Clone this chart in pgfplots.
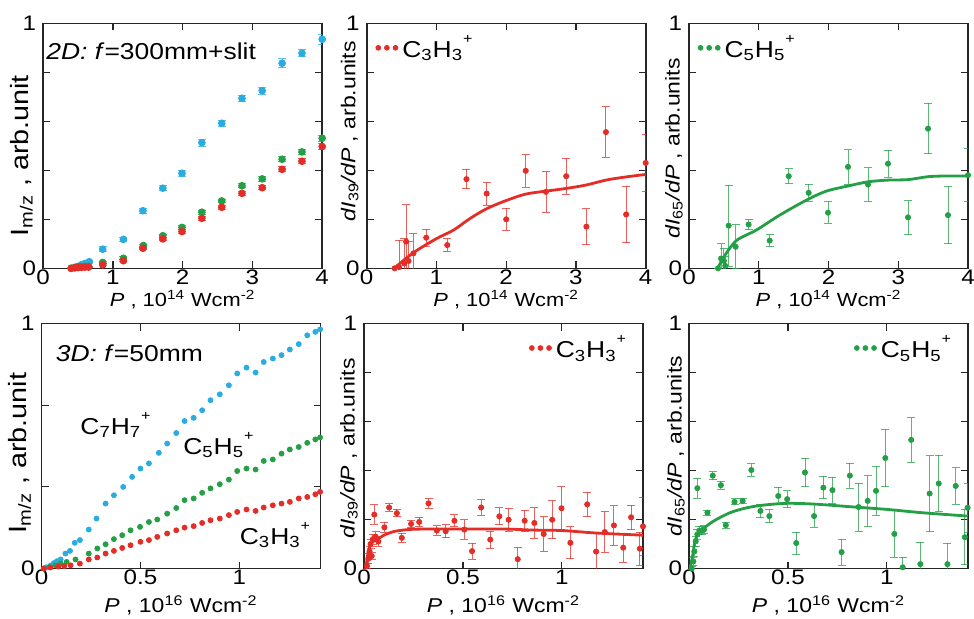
\documentclass[border=0pt]{standalone}
\usepackage{fontspec}
\setmainfont{Liberation Sans}[FakeStretch=1.15]
\usepackage{pgfplots}
\pgfplotsset{compat=1.18}
\definecolor{cblue}{RGB}{40,172,226}
\definecolor{cgreen}{RGB}{35,160,70}
\definecolor{cred}{RGB}{228,45,38}
\newcommand\ion[2]{C\textsubscript{#1}H\textsubscript{#2}\raisebox{1.15ex}{\fontsize{7}{8}\selectfont +}}
\pgfplotsset{
 panel/.style={scale only axis, width=139.5pt, height=122.5pt, ymin=0, ymax=1,
   axis line style={line width=0.8pt, black!85},
   every tick/.style={line width=0.6pt, black!85},
   major tick length=3.5pt,
   ytick={0,0.2,0.4,0.6,0.8,1}, yticklabels={0,,,,,1},
   tick label style={font=\fontsize{10.5}{12}\selectfont},
   xticklabel style={inner sep=0.5pt},
   /pgf/number format/assume math mode=true,
   xlabel style={font=\fontsize{9.5}{11}\selectfont, inner sep=0pt, at={(axis description cs:0.5,-0.127)}, anchor=center},
   ylabel style={font=\fontsize{10}{12}\selectfont, anchor=center},
   legend style={draw=none, fill=none, inner sep=0pt, font=\fontsize{11.5}{13}\selectfont},
   legend cell align=left,
 },
 top/.style={panel, xmin=0, xmax=4, xtick={0,1,2,3,4},
   xlabel={\textit{P} , 10\textsuperscript{14} Wcm\textsuperscript{-2}}},
 bot/.style={panel, xmin=0, xmax=1.41, xtick={0,0.5,1}, xticklabels={0,0.5,1},
   xlabel={\textit{P} , 10\textsuperscript{16} Wcm\textsuperscript{-2}},
   xlabel style={font=\fontsize{10}{12}\selectfont, at={(axis description cs:0.5,-0.15)}}},
 dat/.style={only marks, mark=*, mark size=1.3pt,
   error bars/y dir=both, error bars/y explicit,
   error bars/error bar style={line width=0.45pt, opacity=0.75},
   error bars/error mark options={rotate=90, mark size=2pt, line width=0.45pt, opacity=0.75}},
 fit/.style={line width=1.4pt, smooth, no markers},
 dots/.style={legend image code/.code={\fill (0pt,0pt) circle (1.2pt); \fill (4.3pt,0pt) circle (1.2pt); \fill (8.6pt,0pt) circle (1.2pt);}},
}
\begin{document}
\begin{tikzpicture}
\useasboundingbox (0,0) rectangle (487pt,-309pt);
% ---------- panel 1 ----------
\begin{axis}[top, at={(21.6pt,-134.15pt)}, anchor=south west,
  ylabel={I\textsubscript{m/z} , arb.unit},
  ylabel style={font=\fontsize{12.5}{15}\selectfont, at={(axis description cs:-0.078,0.46)}}]
\addplot[dat, cblue, mark size=1.7pt] coordinates {
(0.45,0.003) +- (0,0.004) (0.5,0.008) +- (0,0.005) (0.55,0.015) +- (0,0.006) (0.6,0.02) +- (0,0.006) (0.66,0.027) +- (0,0.006)
(0.853,0.078) +- (0,0.01) (1.15,0.118) +- (0,0.01) (1.43,0.235) +- (0,0.01) (1.715,0.327) +- (0,0.01) (1.99,0.388) +- (0,0.012)
(2.275,0.513) +- (0,0.015) (2.56,0.592) +- (0,0.012) (2.85,0.694) +- (0,0.012) (3.14,0.725) +- (0,0.015) (3.425,0.837) +- (0,0.018)
(3.71,0.878) +- (0,0.015) (4.0,0.935) +- (0,0.02)};
\addplot[dat, cgreen, mark size=1.7pt] coordinates {
(0.4,0) +- (0,0) (0.455,0.004) +- (0,0.003) (0.5,0.006) +- (0,0.003) (0.527,0.007) +- (0,0.003) (0.6,0.008) +- (0,0.003) (0.647,0.008) +- (0,0.003)
(0.853,0.024) +- (0,0.005) (1.15,0.041) +- (0,0.006) (1.437,0.093) +- (0,0.006) (1.715,0.133) +- (0,0.007) (1.99,0.167) +- (0,0.007)
(2.275,0.229) +- (0,0.008) (2.56,0.275) +- (0,0.008) (2.85,0.337) +- (0,0.008) (3.14,0.365) +- (0,0.009) (3.425,0.445) +- (0,0.01)
(3.71,0.475) +- (0,0.01) (4.0,0.531) +- (0,0.012)};
\addplot[dat, cred, mark size=1.7pt] coordinates {
(0.4,0) +- (0,0) (0.455,0.002) +- (0,0.002) (0.5,0.003) +- (0,0.002) (0.55,0.004) +- (0,0.002) (0.6,0.005) +- (0,0.002) (0.65,0.005) +- (0,0.002)
(0.853,0.014) +- (0,0.004) (1.15,0.031) +- (0,0.005) (1.43,0.082) +- (0,0.006) (1.715,0.12) +- (0,0.006) (1.99,0.15) +- (0,0.007)
(2.275,0.204) +- (0,0.008) (2.56,0.249) +- (0,0.008) (2.85,0.306) +- (0,0.008) (3.14,0.329) +- (0,0.009) (3.425,0.404) +- (0,0.01)
(3.71,0.437) +- (0,0.01) (4.0,0.497) +- (0,0.012)};
\node[anchor=west, font=\fontsize{11.5}{13}\selectfont, inner sep=0pt] at (axis description cs:0.01,0.885) {\textit{2D:} \textit{f}=300mm+slit};
\end{axis}
% ---------- panel 2 ----------
\begin{axis}[top, at={(183.35pt,-134.15pt)}, anchor=south west,
  ylabel={\textit{dI}\textsubscript{39}\textit{/dP} , arb.units},
  ylabel style={at={(axis description cs:-0.061,0.56)}},
  legend style={at={(axis description cs:0.03,0.9)}, anchor=west}]
\addplot[dat, cred, dots] coordinates {
(0.40,0.0) +- (0,0.0) (0.465,0.005) +- (0,0.11) (0.54,0.02) +- (0,0.1) (0.565,0.109) +- (0,0.15) (0.6,0.03) +- (0,0.08) (0.67,0.061) +- (0,0.08)
(0.853,0.125) +- (0,0.035) (1.155,0.095) +- (0,0.025) (1.43,0.364) +- (0,0.04) (1.72,0.305) +- (0,0.047) (2.0,0.2) +- (0,0.045)
(2.28,0.398) +- (0,0.066) (2.57,0.312) +- (0,0.083) (2.86,0.376) +- (0,0.073) (3.15,0.17) +- (0,0.073) (3.43,0.556) +- (0,0.103)
(3.72,0.22) +- (0,0.116) (4.0,0.43) +- (0,0.117)};
\addlegendentry{\ion{3}{3}}
\addplot[fit, cred] coordinates {
(0.393,0) (0.671,0.064) (1.006,0.122) (1.245,0.156) (1.485,0.204) (1.725,0.244) (2.012,0.278) (2.28,0.303)
(2.568,0.315) (2.86,0.326) (3.147,0.34) (3.43,0.36) (3.717,0.373) (4.0,0.383)};
\end{axis}
% ---------- panel 3 ----------
\begin{axis}[top, at={(344.5pt,-134.15pt)}, anchor=south west,
  ylabel={\textit{dI}\textsubscript{65}\textit{/dP} , arb.units},
  ylabel style={at={(axis description cs:-0.054,0.49)}},
  legend style={at={(axis description cs:0.03,0.9)}, anchor=west}]
\addplot[dat, cgreen, dots] coordinates {
(0.416,0) +- (0,0) (0.46,0.04) +- (0,0.06) (0.5,0.03) +- (0,0.05) (0.52,0.01) +- (0,0.04) (0.569,0.174) +- (0,0.165) (0.669,0.088) +- (0,0.09)
(0.855,0.179) +- (0,0.021) (1.157,0.113) +- (0,0.024) (1.43,0.376) +- (0,0.031) (1.716,0.308) +- (0,0.035) (1.993,0.227) +- (0,0.044)
(2.28,0.414) +- (0,0.07) (2.566,0.342) +- (0,0.069) (2.853,0.427) +- (0,0.056) (3.14,0.208) +- (0,0.068) (3.427,0.57) +- (0,0.103)
(3.713,0.217) +- (0,0.116) (4.0,0.38) +- (0,0.108)};
\addlegendentry{\ion{5}{5}}
\addplot[fit, cgreen] coordinates {
(0.416,0) (0.487,0.041) (0.679,0.113) (0.965,0.156) (1.3,0.217) (1.682,0.278) (1.969,0.315) (2.28,0.336)
(2.566,0.353) (2.853,0.36) (3.14,0.362) (3.427,0.374) (3.713,0.377) (4.0,0.377)};
\end{axis}
% ---------- panel 4 ----------
\begin{axis}[bot, at={(20.75pt,-284.25pt)}, anchor=south west,
  ytick={0,0.3333,0.6667,1}, yticklabels={0,,,1},
  ylabel={I\textsubscript{m/z} , arb.unit},
  ylabel style={font=\fontsize{12.5}{15}\selectfont, at={(axis description cs:-0.078,0.47)}}]
\addplot[only marks, mark=*, mark size=1.25pt, cblue] coordinates {
(0.012,0) (0.025,0.005) (0.046,0.012) (0.062,0.022) (0.078,0.03) (0.097,0.037) (0.121,0.061) (0.144,0.072) (0.168,0.105) (0.194,0.116)
(0.239,0.159) (0.278,0.204) (0.324,0.265) (0.366,0.299) (0.413,0.333) (0.458,0.374) (0.5,0.408) (0.543,0.429) (0.593,0.472)
(0.635,0.51) (0.681,0.553) (0.723,0.602) (0.769,0.615) (0.812,0.646) (0.854,0.687) (0.901,0.711) (0.947,0.748) (0.989,0.796)
(1.036,0.82) (1.082,0.8) (1.123,0.843) (1.169,0.857) (1.213,0.871) (1.255,0.894) (1.3,0.916) (1.343,0.952) (1.384,0.966) (1.408,0.976)};
\addplot[only marks, mark=*, mark size=1.25pt, cgreen] coordinates {
(0.012,0) (0.04,0.006) (0.07,0.013) (0.097,0.02) (0.127,0.027) (0.172,0.037) (0.239,0.061) (0.282,0.082) (0.324,0.099) (0.366,0.12)
(0.408,0.136) (0.45,0.156) (0.498,0.17) (0.543,0.19) (0.585,0.2) (0.635,0.224) (0.681,0.247) (0.723,0.279) (0.769,0.286)
(0.812,0.309) (0.854,0.327) (0.901,0.344) (0.947,0.363) (0.989,0.398) (1.036,0.408) (1.082,0.404) (1.123,0.439) (1.169,0.445)
(1.213,0.469) (1.255,0.486) (1.3,0.496) (1.343,0.513) (1.384,0.527) (1.408,0.535)};
\addplot[only marks, mark=*, mark size=1.25pt, cred] coordinates {
(0.012,0) (0.045,0.004) (0.085,0.008) (0.115,0.01) (0.147,0.013) (0.194,0.02) (0.239,0.037) (0.282,0.045) (0.324,0.061) (0.366,0.072)
(0.408,0.084) (0.45,0.095) (0.5,0.109) (0.543,0.116) (0.585,0.129) (0.635,0.143) (0.681,0.156) (0.723,0.167) (0.769,0.173)
(0.812,0.186) (0.854,0.197) (0.901,0.204) (0.947,0.218) (0.989,0.231) (1.036,0.241) (1.082,0.235) (1.123,0.249) (1.169,0.258)
(1.213,0.265) (1.255,0.272) (1.3,0.286) (1.343,0.292) (1.384,0.303) (1.408,0.313)};
\node[anchor=west, font=\fontsize{11.5}{13}\selectfont, inner sep=0pt] at (axis description cs:0.05,0.878) {\textit{3D:} \textit{f}=50mm};
\node[font=\fontsize{11.5}{13}\selectfont] at (axis cs:0.374,0.586) {\ion{7}{7}};
\node[font=\fontsize{11.5}{13}\selectfont] at (axis cs:0.894,0.504) {\ion{5}{5}};
\node[font=\fontsize{11.5}{13}\selectfont] at (axis cs:1.18,0.137) {\ion{3}{3}};
\end{axis}
% ---------- panel 5 ----------
\begin{axis}[bot, at={(182pt,-284.25pt)}, anchor=south west,
  ylabel={\textit{dI}\textsubscript{39}\textit{/dP} , arb.units},
  ylabel style={at={(axis description cs:-0.054,0.49)}},
  legend style={at={(axis description cs:0.955,0.9)}, anchor=east}]
\addplot[dat, cred, dots] coordinates {
(0.015,0.01) +- (0,0.01) (0.022,0.04) +- (0,0.02) (0.028,0.07) +- (0,0.02) (0.033,0.1) +- (0,0.02) (0.039,0.051) +- (0,0.015)
(0.045,0.12) +- (0,0.02) (0.052,0.22) +- (0,0.04) (0.059,0.13) +- (0,0.02) (0.072,0.11) +- (0,0.02)
(0.103,0.168) +- (0,0.02) (0.127,0.249) +- (0,0.015) (0.166,0.226) +- (0,0.015) (0.191,0.125) +- (0,0.02) (0.238,0.182) +- (0,0.015)
(0.279,0.19) +- (0,0.02) (0.326,0.266) +- (0,0.02) (0.368,0.155) +- (0,0.02) (0.413,0.152) +- (0,0.027) (0.457,0.195) +- (0,0.025)
(0.507,0.159) +- (0,0.04) (0.546,0.071) +- (0,0.032) (0.592,0.249) +- (0,0.031) (0.638,0.118) +- (0,0.035) (0.684,0.213) +- (0,0.035)
(0.731,0.199) +- (0,0.046) (0.777,0.038) +- (0,0.047) (0.812,0.195) +- (0,0.044) (0.861,0.186) +- (0,0.063) (0.908,0.141) +- (0,0.07)
(0.951,0.199) +- (0,0.077) (0.998,0.246) +- (0,0.087) (1.043,0.105) +- (0,0.065) (1.128,0.262) +- (0,0.05) (1.173,0.069) +- (0,0.074)
(1.217,0.149) +- (0,0.082) (1.263,0.176) +- (0,0.081) (1.31,0.085) +- (0,0.06) (1.35,0.209) +- (0,0.05) (1.394,0.081) +- (0,0.068)
(1.41,0.172) +- (0,0.12)};
\addlegendentry{\ion{3}{3}}
\addplot[fit, cred] coordinates {
(0.01,0.004) (0.022,0.071) (0.039,0.105) (0.065,0.118) (0.106,0.138) (0.157,0.152) (0.224,0.159) (0.292,0.161)
(0.461,0.161) (0.714,0.161) (0.85,0.157) (1.001,0.155) (1.17,0.145) (1.41,0.136)};
\end{axis}
% ---------- panel 6 ----------
\begin{axis}[bot, at={(344.5pt,-284.25pt)}, anchor=south west,
  ylabel={\textit{dI}\textsubscript{65}\textit{/dP} , arb.units},
  ylabel style={at={(axis description cs:-0.047,0.5)}},
  legend style={at={(axis description cs:0.955,0.9)}, anchor=east}]
\addplot[dat, cgreen, dots] coordinates {
(0.014,0.0) +- (0,0.01) (0.022,0.029) +- (0,0.015) (0.027,0.07) +- (0,0.02) (0.034,0.111) +- (0,0.02) (0.042,0.139) +- (0,0.02)
(0.052,0.155) +- (0,0.015) (0.064,0.155) +- (0,0.015) (0.076,0.159) +- (0,0.015) (0.042,0.328) +- (0,0.041)
(0.093,0.228) +- (0,0.01) (0.12,0.379) +- (0,0.016) (0.161,0.34) +- (0,0.017) (0.186,0.177) +- (0,0.012) (0.23,0.272) +- (0,0.012)
(0.271,0.276) +- (0,0.012) (0.315,0.402) +- (0,0.026) (0.361,0.235) +- (0,0.027) (0.406,0.214) +- (0,0.027) (0.451,0.296) +- (0,0.036)
(0.496,0.283) +- (0,0.034) (0.542,0.104) +- (0,0.045) (0.586,0.392) +- (0,0.059) (0.632,0.214) +- (0,0.046) (0.679,0.33) +- (0,0.046)
(0.725,0.32) +- (0,0.053) (0.771,0.067) +- (0,0.053) (0.813,0.379) +- (0,0.051) (0.857,0.251) +- (0,0.098) (0.903,0.276) +- (0,0.103)
(0.945,0.317) +- (0,0.099) (0.992,0.451) +- (0,0.117) (1.038,0.141) +- (0,0.096) (1.08,0.005) +- (0,0.04) (1.123,0.525) +- (0,0.091)
(1.169,0.018) +- (0,0.09) (1.216,0.306) +- (0,0.155) (1.262,0.347) +- (0,0.115) (1.306,0.018) +- (0,0.085) (1.348,0.337) +- (0,0.075)
(1.394,0.128) +- (0,0.113) (1.408,0.248) +- (0,0.1)};
\addlegendentry{\ion{5}{5}}
\addplot[fit, cgreen] coordinates {
(0.005,0) (0.019,0.056) (0.03,0.111) (0.047,0.145) (0.073,0.163) (0.123,0.193) (0.208,0.228) (0.293,0.248)
(0.378,0.259) (0.496,0.266) (0.632,0.263) (0.835,0.251) (1.005,0.241) (1.174,0.228) (1.41,0.214)};
\end{axis}
\end{tikzpicture}
\end{document}
